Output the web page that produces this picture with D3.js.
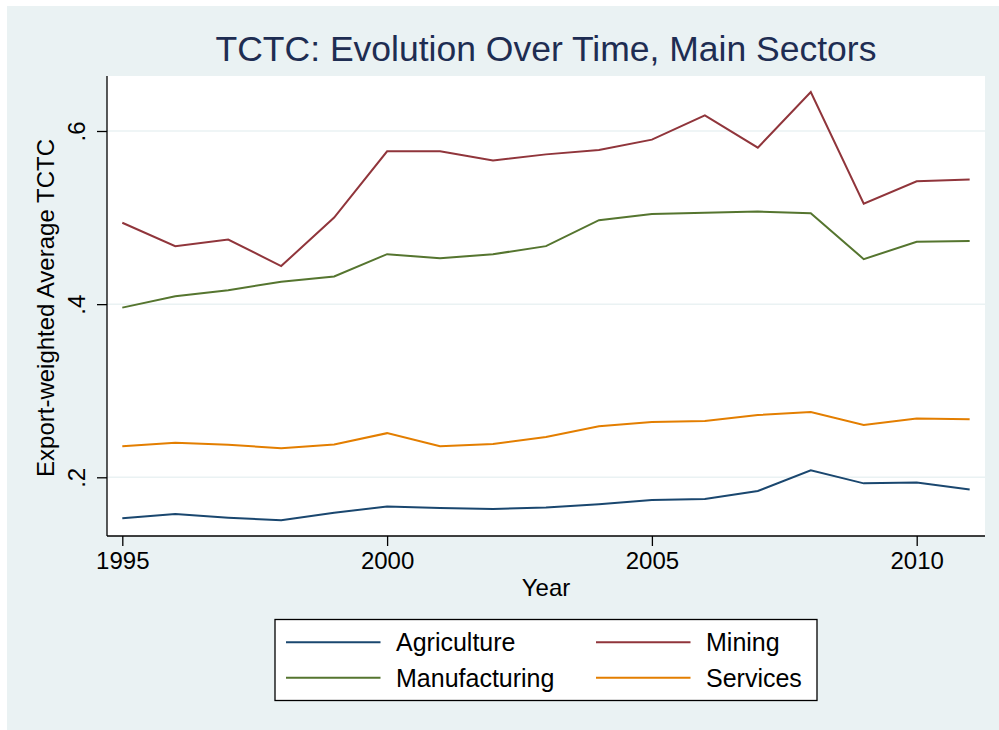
<!DOCTYPE html>
<html>
<head>
<meta charset="utf-8">
<script src="https://cdn.jsdelivr.net/npm/d3@7"></script>
<style>
  html, body { margin: 0; padding: 0; background: #ffffff; }
  svg { display: block; font-family: Arial, "Liberation Sans", Helvetica, sans-serif; }
</style>
</head>
<body>
<svg id="chart" width="999" height="730"></svg>
<script>
const years = [1995,1996,1997,1998,1999,2000,2001,2002,2003,2004,2005,2006,2007,2008,2009,2010,2011];
const agriculture   = [0.1527,0.1577,0.1534,0.1504,0.1590,0.1663,0.1646,0.1634,0.1652,0.1690,0.1738,0.1750,0.1842,0.2080,0.1930,0.1940,0.1860];
const mining        = [0.494,0.467,0.4746,0.444,0.500,0.5765,0.5765,0.566,0.573,0.578,0.590,0.618,0.5807,0.645,0.516,0.542,0.544];
const manufacturing = [0.396,0.409,0.416,0.426,0.432,0.4577,0.453,0.4577,0.467,0.497,0.504,0.5056,0.507,0.505,0.452,0.472,0.473];
const services      = [0.2358,0.2400,0.2376,0.2335,0.2380,0.2510,0.2360,0.2385,0.2465,0.2590,0.2638,0.2650,0.2719,0.2753,0.2603,0.2680,0.2670];
const seriesNames = ["Agriculture","Mining","Manufacturing","Services"];
const seriesColors = ["#1a476f","#90353b","#55752f","#e37e00"];
const yTicks = [0.2,0.4,0.6];
const yTickLabels = [".2",".4",".6"];
const xTicks = [1995,2000,2005,2010];
const titleText = "TCTC: Evolution Over Time, Main Sectors";
const xTitle = "Year";
const yTitle = "Export-weighted Average TCTC";

const seriesData = [agriculture, mining, manufacturing, services];

const svg = d3.select("#chart");
const W = 999, H = 730;
const bg = "#eaf2f3";

// outer background
svg.append("rect").attr("x", 7).attr("y", 6).attr("width", W - 7).attr("height", H - 6).attr("fill", bg);

const plot = {left: 107, right: 985, top: 76, bottom: 536};

const x = d3.scaleLinear().domain([1995, 2010]).range([122.3, 916.7]);
const y = d3.scaleLinear().domain([0.2, 0.6]).range([477.3, 131]);

// plot region
svg.append("rect").attr("x", plot.left).attr("y", plot.top)
  .attr("width", plot.right - plot.left).attr("height", plot.bottom - plot.top)
  .attr("fill", "#ffffff");

// gridlines
svg.append("g").selectAll("line").data(yTicks).join("line")
  .attr("x1", plot.left).attr("x2", plot.right)
  .attr("y1", d => y(d)).attr("y2", d => y(d))
  .attr("stroke", bg).attr("stroke-width", 1.5);

// lines
const line = d3.line().x((d, i) => x(years[i])).y(d => y(d));
svg.append("g").selectAll("path").data(seriesData).join("path")
  .attr("d", d => line(d))
  .attr("fill", "none")
  .attr("stroke", (d, i) => seriesColors[i])
  .attr("stroke-width", 2)
  .attr("stroke-linejoin", "miter");

// y axis
const yAxis = d3.axisLeft(y).tickValues(yTicks).tickSize(10)
  .tickFormat((d, i) => yTickLabels[i]);
const gy = svg.append("g").attr("transform", `translate(${plot.left},0)`).call(yAxis);
gy.select(".domain").attr("d", `M0,${plot.top}V${plot.bottom}`).attr("stroke", "#000").attr("stroke-width", 1.3);
gy.selectAll(".tick line").attr("stroke", "#000").attr("stroke-width", 1.3);
gy.selectAll(".tick text")
  .attr("x", null).attr("dy", null)
  .attr("transform", "translate(-22,0) rotate(-90)")
  .attr("text-anchor", "middle")
  .attr("font-size", 24).attr("fill", "#000")
  .attr("font-family", "Arial, 'Liberation Sans', sans-serif");

// x axis
const xAxis = d3.axisBottom(x).tickValues(xTicks).tickSize(10).tickFormat(d3.format("d"));
const gx = svg.append("g").attr("transform", `translate(0,${plot.bottom})`).call(xAxis);
gx.select(".domain").attr("d", `M${plot.left},0H${plot.right}`).attr("stroke", "#000").attr("stroke-width", 1.3);
gx.selectAll(".tick line").attr("stroke", "#000").attr("stroke-width", 1.3);
gx.selectAll(".tick text")
  .attr("y", null).attr("dy", null)
  .attr("transform", "translate(0,33)")
  .attr("font-size", 24).attr("fill", "#000")
  .attr("font-family", "Arial, 'Liberation Sans', sans-serif");

// titles
svg.append("text").attr("x", (plot.left + plot.right) / 2).attr("y", 61)
  .attr("text-anchor", "middle").attr("font-size", 35.5).attr("fill", "#1e2d52")
  .text(titleText);
svg.append("text").attr("x", (plot.left + plot.right) / 2).attr("y", 596)
  .attr("text-anchor", "middle").attr("font-size", 24).attr("fill", "#000")
  .text(xTitle);
svg.append("text").attr("transform", `translate(54,${(plot.top + plot.bottom) / 2 + 2}) rotate(-90)`)
  .attr("text-anchor", "middle").attr("font-size", 24).attr("fill", "#000")
  .text(yTitle);

// legend
const lg = svg.append("g");
lg.append("rect").attr("x", 275).attr("y", 619.5).attr("width", 542).attr("height", 81)
  .attr("fill", "#fff").attr("stroke", "#000").attr("stroke-width", 1.3);
const legendPos = [
  {lx: 286, tx: 396, y: 642.3},
  {lx: 596, tx: 706, y: 642.3},
  {lx: 286, tx: 396, y: 677.7},
  {lx: 596, tx: 706, y: 677.7}
];
const legendIdx = [0, 1, 2, 3];
legendIdx.forEach((si, k) => {
  const p = legendPos[k];
  lg.append("line").attr("x1", p.lx).attr("x2", p.lx + 94.5)
    .attr("y1", p.y).attr("y2", p.y)
    .attr("stroke", seriesColors[si]).attr("stroke-width", 2);
  lg.append("text").attr("x", p.tx).attr("y", p.y + 8.8)
    .attr("font-size", 25).attr("fill", "#000")
    .text(seriesNames[si]);
});
</script>
</body>
</html>
